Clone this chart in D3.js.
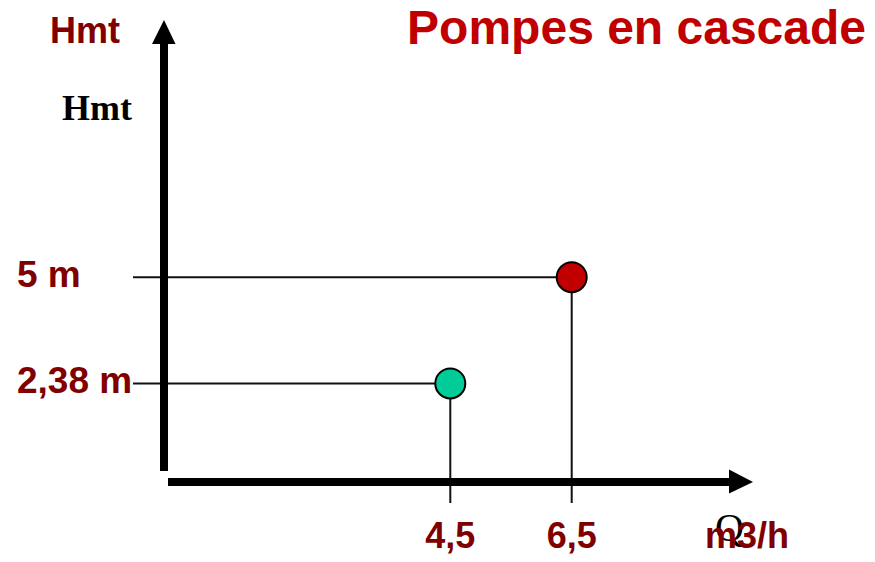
<!DOCTYPE html>
<html>
<head>
<meta charset="utf-8">
<script src="https://cdn.jsdelivr.net/npm/d3@7"></script>
<style>
  html, body { margin: 0; padding: 0; background: #fff; }
  svg { display: block; }
</style>
</head>
<body>
<svg id="chart" width="875" height="562"></svg>
<script>
// ---- data ----
const pumps = ["Pompe 1", "Pompe 2"];
const flows = [4.5, 6.5];          // Q (m3/h)
const heads = [2.38, 5];           // Hmt (m)
const flowLabels = ["4,5", "6,5"];
const headLabels = ["2,38 m", "5 m"];
const pumpColors = ["#00CC99", "#C00000"];

const title = "Pompes en cascade";

const svg = d3.select("#chart");

// scales
const x = d3.scaleLinear().domain([4.5, 6.5]).range([450.3, 571.7]);
const y = d3.scaleLinear().domain([0, 5]).range([480, 277.2]);

const sans = "'Liberation Sans', Arial, sans-serif";
const serif = "'Liberation Serif', 'Times New Roman', serif";
const dark = "#800000";

const axisLeftX = 164, axisBottomY = 482;
const guideLeft = 133, guideBottom = 503;

// guide lines
const g = svg.append("g");
pumps.forEach((p, i) => {
  g.append("line")
    .attr("x1", guideLeft).attr("x2", x(flows[i]))
    .attr("y1", y(heads[i])).attr("y2", y(heads[i]))
    .attr("stroke", "#111").attr("stroke-width", 2);
  g.append("line")
    .attr("x1", x(flows[i])).attr("x2", x(flows[i]))
    .attr("y1", y(heads[i])).attr("y2", guideBottom)
    .attr("stroke", "#111").attr("stroke-width", 2);
});

// axes
svg.append("line")
  .attr("x1", axisLeftX).attr("x2", axisLeftX)
  .attr("y1", 471).attr("y2", 42)
  .attr("stroke", "#000").attr("stroke-width", 8);
svg.append("path")
  .attr("d", `M${axisLeftX - 12},44 L${axisLeftX + 11.5},44 L${axisLeftX},20 Z`)
  .attr("fill", "#000");
svg.append("line")
  .attr("x1", 168).attr("x2", 731)
  .attr("y1", axisBottomY).attr("y2", axisBottomY)
  .attr("stroke", "#000").attr("stroke-width", 8);
svg.append("path")
  .attr("d", `M729,${axisBottomY - 12.5} L729,${axisBottomY + 11.5} L753,${axisBottomY} Z`)
  .attr("fill", "#000");

// points
svg.selectAll("circle.pt")
  .data(pumps)
  .join("circle")
  .attr("class", "pt")
  .attr("cx", (d, i) => x(flows[i]))
  .attr("cy", (d, i) => y(heads[i]))
  .attr("r", 15)
  .attr("fill", (d, i) => pumpColors[i])
  .attr("stroke", "#000")
  .attr("stroke-width", 2);

// tick labels
svg.selectAll("text.xl")
  .data(flowLabels)
  .join("text")
  .attr("class", "xl")
  .attr("x", (d, i) => x(flows[i]))
  .attr("y", 548)
  .attr("text-anchor", "middle")
  .attr("font-family", sans).attr("font-weight", "bold")
  .attr("font-size", 36).attr("fill", dark)
  .text(d => d);

svg.selectAll("text.yl")
  .data(headLabels)
  .join("text")
  .attr("class", "yl")
  .attr("x", 17)
  .attr("y", (d, i) => y(heads[i]) + 10)
  .attr("font-family", sans).attr("font-weight", "bold")
  .attr("font-size", 37).attr("fill", dark)
  .text(d => d);

// axis titles
svg.append("text")
  .attr("x", 50).attr("y", 43)
  .attr("font-family", sans).attr("font-weight", "bold")
  .attr("font-size", 36).attr("fill", dark)
  .text("Hmt");
svg.append("text")
  .attr("x", 62).attr("y", 120)
  .attr("font-family", serif).attr("font-weight", "bold")
  .attr("font-size", 36).attr("fill", "#000")
  .text("Hmt");
svg.append("text")
  .attr("x", 715).attr("y", 541)
  .attr("font-family", serif)
  .attr("font-size", 40).attr("fill", "#000")
  .text("Q");
svg.append("text")
  .attr("x", 705).attr("y", 548)
  .attr("font-family", sans).attr("font-weight", "bold")
  .attr("font-size", 36).attr("fill", dark)
  .text("m3/h");

// title
svg.append("text")
  .attr("x", 866).attr("y", 44)
  .attr("text-anchor", "end")
  .attr("font-family", sans).attr("font-weight", "bold")
  .attr("font-size", 48).attr("fill", "#C00000")
  .text(title);
</script>
</body>
</html>
